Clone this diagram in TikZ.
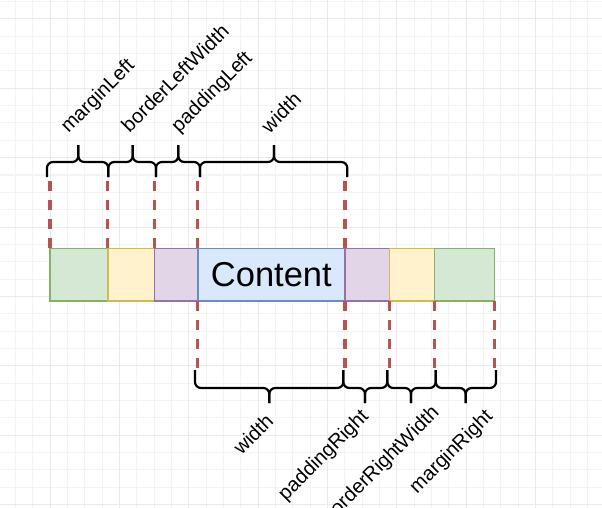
\documentclass[tikz,border=0pt]{standalone}
\usepackage{fontspec}
\setmainfont{Liberation Sans}
\definecolor{gmin}{HTML}{F4F4F4}
\definecolor{gmaj}{HTML}{EAEAEA}
\definecolor{greenF}{HTML}{D5E8D4}
\definecolor{greenS}{HTML}{82B366}
\definecolor{yelF}{HTML}{FFF2CC}
\definecolor{yelS}{HTML}{D6B656}
\definecolor{purF}{HTML}{E1D5E7}
\definecolor{purS}{HTML}{9673A6}
\definecolor{bluF}{HTML}{DAE8FC}
\definecolor{bluS}{HTML}{6C8EBF}
\definecolor{redS}{HTML}{B85450}
\tikzset{
  cell/.style={draw, line width=1.6pt, inner sep=0pt, outer sep=0pt,
    minimum height=52.4pt, anchor=north west},
  guide/.style={draw=redS, line width=3.5pt, dash pattern=on 10pt off 9pt},
  bracestyle/.style={draw=black, line width=2.2pt, rounded corners=6pt},
  lbl/.style={inner sep=0pt, outer sep=0pt, anchor=center, rotate=45,
    font=\fontsize{20}{24}\selectfont}
}
\newcommand\bracetop[3]{%
  \draw[bracestyle] (#1,177) -- (#1,162) -- (#3,162) -- (#3,145);
  \draw[bracestyle] (#2,177) -- (#2,162) -- (#3,162) -- (#3,145);
}
\newcommand\bracebot[3]{%
  \draw[bracestyle] (#1,370) -- (#1,388) -- (#3,388) -- (#3,403);
  \draw[bracestyle] (#2,370) -- (#2,388) -- (#3,388) -- (#3,403);
}
\begin{document}
\begin{tikzpicture}[x=1pt,y=-1pt]
\useasboundingbox (0,0) rectangle (602,508);
\fill[white] (0,0) rectangle (602,508);
% grid
\foreach \i in {-2,...,32} {
  \draw[gmin, line width=1pt] ({50+17.3333*\i},0) -- ({50+17.3333*\i},508);
}
\foreach \j in {-5,...,24} {
  \draw[gmin, line width=1pt] (0,{88.333+17.3333*\j}) -- (602,{88.333+17.3333*\j});
}
\foreach \i in {0,...,8} {
  \draw[gmaj, line width=1pt] ({50+69.3333*\i},0) -- ({50+69.3333*\i},508);
}
\foreach \j in {-1,...,6} {
  \draw[gmaj, line width=1pt] (0,{88.333+69.3333*\j}) -- (602,{88.333+69.3333*\j});
}
% boxes
\node[cell, fill=greenF, draw=greenS, minimum width=57.7pt] (ml) at (50,248.3) {};
\node[cell, fill=yelF, draw=yelS, minimum width=46.6pt] (bl) at (ml.north east) {};
\node[cell, fill=purF, draw=purS, minimum width=43.4pt] (pl) at (bl.north east) {};
\node[cell, fill=bluF, draw=bluS, minimum width=147.3pt,
      font=\fontsize{34.5}{40}\selectfont] (ct) at (pl.north east) {Content};
\node[cell, fill=purF, draw=purS, minimum width=44.3pt] (pr) at (ct.north east) {};
\node[cell, fill=yelF, draw=yelS, minimum width=45pt] (br) at (pr.north east) {};
\node[cell, fill=greenF, draw=greenS, minimum width=60pt] (mr) at (br.north east) {};
% guide ends
\coordinate (topend) at (0,178);
\coordinate (botend) at (0,370);
% dashed guides
\draw[guide] (ml.north west) -- (ml.north west |- topend);
\draw[guide] (bl.north west) -- (bl.north west |- topend);
\draw[guide] (pl.north west) -- (pl.north west |- topend);
\draw[guide] (ct.north west) -- (ct.north west |- topend);
\draw[guide] (ct.north east) -- (ct.north east |- topend);
\draw[guide] (ct.south west) -- (ct.south west |- botend);
\draw[guide] (ct.south east) -- (ct.south east |- botend);
\draw[guide] (br.south west) -- (br.south west |- botend);
\draw[guide] (mr.south west) -- (mr.south west |- botend);
\draw[guide] (mr.south east) -- (mr.south east |- botend);
% braces
\bracetop{47}{108.3}{78.3}
\bracetop{108.3}{156}{132.7}
\bracetop{156}{200}{178.3}
\bracetop{200}{347.3}{274}
\bracebot{195}{343.3}{269.3}
\bracebot{343.3}{387.3}{365}
\bracebot{387.3}{435.7}{411}
\bracebot{435.7}{496}{465.7}
% labels
\node[lbl] (tml) at (98.3,96.8) {marginLeft};
\node[lbl] (tbl) at (175,78) {borderLeftWidth};
\node[lbl] (tpl) at (212.5,92.5) {paddingLeft};
\node[lbl] (tw) at (281,112.5) {width};
\node[lbl] (bw) at (253,434) {width};
\node[lbl] (bpr) at (324,455.7) {paddingRight};
\node[lbl, anchor=base east] (bbr) at (440,414) {borderRightWidth};
\node[lbl] (bmr) at (451.7,452.5) {marginRight};
\end{tikzpicture}
\end{document}
